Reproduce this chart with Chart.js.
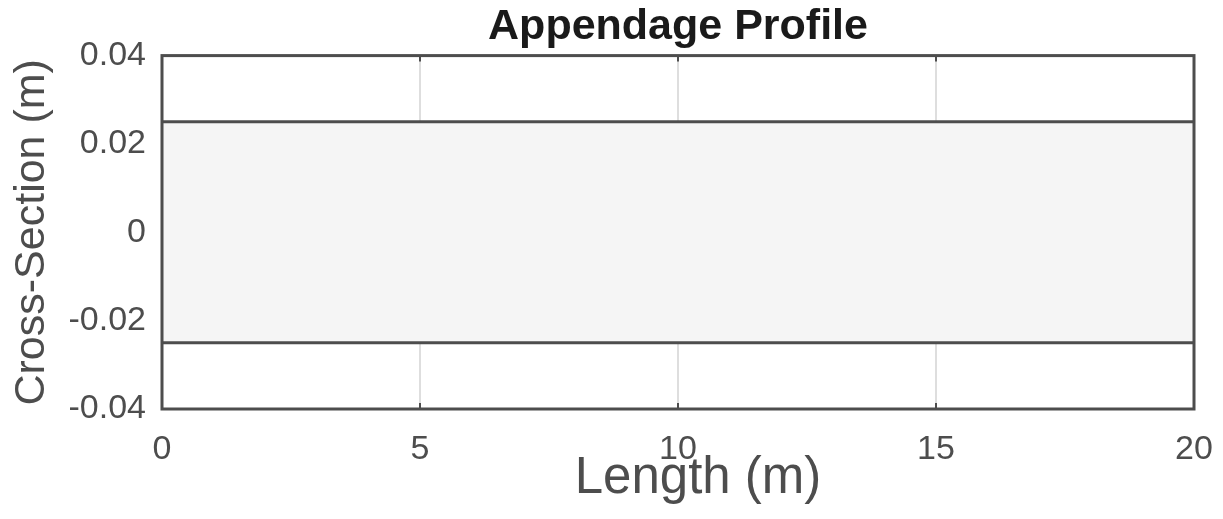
<!DOCTYPE html>
<html>
<head>
<meta charset="utf-8">
<title>Appendage Profile</title>
<script src="https://cdn.jsdelivr.net/npm/chart.js@4/dist/chart.umd.min.js"></script>
<style>
  html, body { margin: 0; padding: 0; background: #ffffff; }
  #wrap { width: 1223px; height: 519px; }
</style>
</head>
<body>
<div id="wrap"><canvas id="profile" width="1223" height="519"></canvas></div>
<script>
// Appendage outline along its length (m)
const lengthPoints = [0, 20];
const upperEdge = [0.025, 0.025];
const lowerEdge = [-0.025, -0.025];

// Axis ticks
const xTickValues = [0, 5, 10, 15, 20];
const xTickLabels = ['0', '5', '10', '15', '20'];
const yTickValues = [-0.04, -0.02, 0, 0.02, 0.04];
const yTickLabels = ['-0.04', '-0.02', '0', '0.02', '0.04'];

const X_TITLE = 'Length (m)';

const FONT = '"Liberation Sans", Arial, Helvetica, sans-serif';
const AXIS_COLOR = '#4d4d4d';

function toPoints(xs, ys) {
  return xs.map((x, i) => ({ x: x, y: ys[i] }));
}

// Box frame around the plot area, short inward ticks on the x axis,
// and the x-axis caption (set slightly right of centre)
const framePlugin = {
  id: 'frame',
  afterDraw(chart) {
    const { ctx, chartArea: a, scales } = chart;
    ctx.save();
    ctx.strokeStyle = AXIS_COLOR;
    ctx.lineWidth = 2;
    xTickValues.forEach(v => {
      if (v <= scales.x.min || v >= scales.x.max) return;
      const px = Math.round(scales.x.getPixelForValue(v));
      ctx.beginPath();
      ctx.moveTo(px, a.bottom);
      ctx.lineTo(px, a.bottom - 6);
      ctx.moveTo(px, a.top);
      ctx.lineTo(px, a.top + 6);
      ctx.stroke();
    });
    ctx.lineWidth = 3;
    ctx.strokeRect(a.left, a.top, a.right - a.left, a.bottom - a.top);

    ctx.fillStyle = AXIS_COLOR;
    ctx.font = '51px ' + FONT;
    ctx.textAlign = 'center';
    ctx.textBaseline = 'middle';
    ctx.fillText(X_TITLE, (a.left + a.right) / 2 + 20, scales.x.bottom - 40);
    ctx.restore();
  }
};

new Chart(document.getElementById('profile'), {
  type: 'line',
  data: {
    datasets: [
      {
        label: 'Upper edge',
        data: toPoints(lengthPoints, upperEdge),
        borderColor: AXIS_COLOR,
        borderWidth: 3,
        backgroundColor: '#f5f5f5',
        fill: '+1',
        pointRadius: 0,
        pointHoverRadius: 0,
        tension: 0
      },
      {
        label: 'Lower edge',
        data: toPoints(lengthPoints, lowerEdge),
        borderColor: AXIS_COLOR,
        borderWidth: 3,
        backgroundColor: '#f5f5f5',
        fill: false,
        pointRadius: 0,
        pointHoverRadius: 0,
        tension: 0
      }
    ]
  },
  options: {
    responsive: false,
    animation: false,
    devicePixelRatio: 1,
    layout: { padding: { left: 0, right: 29, top: 0, bottom: 0 } },
    plugins: {
      legend: { display: false },
      tooltip: { enabled: false },
      filler: { drawTime: 'beforeDatasetsDraw' },
      title: {
        display: true,
        fullSize: false,
        text: 'Appendage Profile',
        color: '#1a1a1a',
        font: { family: FONT, size: 43, weight: 'bold', lineHeight: 1.2 },
        padding: { top: 1, bottom: 3 }
      }
    },
    scales: {
      x: {
        type: 'linear',
        min: 0,
        max: 20,
        afterBuildTicks(scale) { scale.ticks = xTickValues.map(v => ({ value: v })); },
        afterFit(scale) {
          scale.height = 110;
          scale.paddingLeft = 0;
          scale.paddingRight = 0;
        },
        ticks: {
          color: AXIS_COLOR,
          padding: 20,
          maxRotation: 0,
          font: { family: FONT, size: 34 },
          callback(value) {
            const i = xTickValues.indexOf(value);
            return i >= 0 ? xTickLabels[i] : '';
          }
        },
        grid: { color: '#dedede', lineWidth: 2, drawTicks: false },
        border: { display: false },
        title: { display: false, text: X_TITLE }
      },
      y: {
        type: 'linear',
        min: -0.04,
        max: 0.04,
        afterBuildTicks(scale) { scale.ticks = yTickValues.map(v => ({ value: v })); },
        afterFit(scale) { scale.width = 162; },
        ticks: {
          color: AXIS_COLOR,
          padding: 16,
          font: { family: FONT, size: 34 },
          callback(value) {
            const i = yTickValues.findIndex(v => Math.abs(v - value) < 1e-9);
            return i >= 0 ? yTickLabels[i] : '';
          }
        },
        grid: { color: '#dedede', lineWidth: 2, drawTicks: false },
        border: { display: false },
        title: {
          display: true,
          text: 'Cross-Section (m)',
          color: AXIS_COLOR,
          font: { family: FONT, size: 43, lineHeight: 1.2 },
          padding: { top: 6, bottom: 0 }
        }
      }
    }
  },
  plugins: [framePlugin]
});
</script>
</body>
</html>
